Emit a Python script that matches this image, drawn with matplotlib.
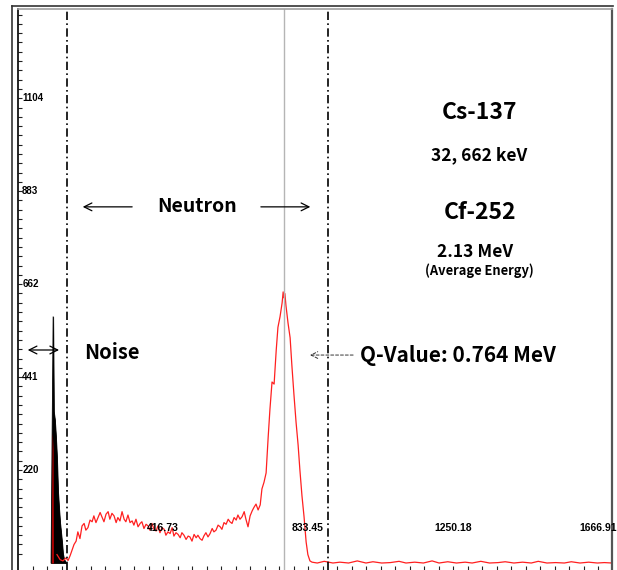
import matplotlib.pyplot as plt
from matplotlib.lines import Line2D

# energy axis in keV, counts on y
red_keV = [112, 121, 129, 138, 144, 150, 155, 161, 167, 172, 178, 184, 190, 195, 201, 207, 213, 218, 224, 230,
           236, 241, 247, 253, 259, 264, 270, 276, 282, 287, 293, 299, 305, 310, 316, 322, 328, 333, 339, 345,
           351, 356, 362, 368, 374, 379, 385, 391, 397, 402, 408, 414, 420, 425, 431, 437, 443, 448, 454, 460,
           466, 471, 477, 483, 489, 494, 500, 506, 512, 517, 523, 529, 534, 540, 546, 552, 558, 563, 569, 575,
           581, 586, 592, 598, 604, 609, 615, 621, 627, 632, 638, 644, 650, 655, 661, 667, 673, 678, 684, 690,
           696, 701, 707, 713, 719, 724, 730, 736, 742, 747, 753, 759, 762, 764, 767, 770, 776, 782, 787, 793,
           799, 805, 810, 816, 822, 828, 833, 839, 845]
red_counts = [20, 8, 5, 12, 6, 18, 30, 44, 52, 74, 58, 88, 94, 78, 84, 102, 98, 112, 96, 108,
              120, 110, 98, 116, 122, 104, 118, 112, 96, 108, 100, 122, 104, 98, 114, 96, 100, 90, 104, 86,
              94, 98, 82, 92, 88, 78, 94, 80, 76, 88, 72, 84, 80, 66, 74, 70, 84, 64, 72, 68,
              60, 72, 66, 56, 64, 62, 52, 68, 60, 66, 58, 54, 64, 72, 62, 70, 82, 74, 78, 90,
              86, 80, 96, 92, 104, 98, 94, 108, 102, 114, 104, 110, 122, 104, 86, 112, 124, 132, 140, 126,
              138, 176, 192, 214, 300, 365, 430, 425, 505, 560, 585, 618, 644, 630, 640, 612, 570, 535, 470, 400,
              335, 280, 222, 160, 110, 50, 20, 5, 2]

# flat tail after the peak
tail_keV = [860, 880, 905, 925, 950, 975, 1000, 1020, 1045, 1070, 1095, 1115, 1140, 1165, 1190, 1210,
            1235, 1260, 1285, 1305, 1330, 1355, 1380, 1400, 1425, 1450, 1475, 1495, 1520, 1545, 1570,
            1590, 1615, 1640, 1665, 1685, 1707]
tail_counts = [0, 4, 0, 2, 0, 5, 0, 3, 0, 1, 4, 0, 2, 0, 5, 0, 3, 0, 2, 0, 4, 0, 1, 3, 0, 2, 0, 4,
               0, 1, 0, 3, 0, 2, 0, 1, 0]

# low energy noise (black) and red spike
noise_keV = [95, 98, 101, 103, 106, 109, 112, 115, 118, 121, 124, 127, 129, 132, 138]
noise_counts = [0, 300, 585, 360, 340, 300, 250, 170, 130, 95, 71, 45, 24, 10, 0]
spike_keV = [96, 97, 99, 101, 102]
spike_counts = [0, 309, 300, 270, 0]

window = [141, 891]
q_value = 764

ytick_vals = [220.8, 441.6, 662.4, 883.2, 1104.0]
ytick_labels = ['220', '441', '662', '883', '1104']
xtick_vals = [416.73, 833.45, 1250.18, 1666.91]
xtick_labels = ['416.73', '833.45', '1250.18', '1666.91']

fig = plt.figure(figsize=(6.17, 5.70), dpi=100)
ax = fig.add_axes([18/617, 0, 594/617, 561/570])

ax.fill_between(noise_keV, noise_counts, color='black', lw=0.6)
ax.plot(noise_keV, noise_counts, color='black', lw=0.6)
ax.fill_between(spike_keV, spike_counts, color='#a80000', lw=0)
ax.plot(red_keV + tail_keV, red_counts + tail_counts, color='#ff2020', lw=0.9)

ax.axvline(q_value, color='#b5b5b5', lw=1)
for w in window:
    ax.axvline(w, color='black', lw=1.2, linestyle=(0, (5, 2, 1, 2)))

ax.set_xlim(0, 1707)
ax.set_ylim(-16.6, 1316)

# ticks drawn inside, labels written by hand inside the frame
ax.set_xticks([41.673 * i for i in range(1, 41)])
ax.set_yticks([22.08 * i for i in range(1, 60)])
ax.set_xticklabels([])
ax.set_yticklabels([])
ax.tick_params(direction='in', length=3, width=0.8, colors='#222222')
ax.tick_params(axis='x', top=False)
ax.tick_params(axis='y', right=False)
for v, s in zip(ytick_vals, ytick_labels):
    ax.annotate(s, xy=(0, v), xycoords=('axes fraction', 'data'), xytext=(3, 0),
                textcoords='offset points', ha='left', va='center',
                fontsize=7, fontweight='bold', family='Liberation Sans')
for v, s in zip(xtick_vals, xtick_labels):
    ax.annotate(s, xy=(v, 0), xycoords=('data', 'axes fraction'), xytext=(0, 30),
                textcoords='offset points', ha='center', va='center',
                fontsize=7.5, fontweight='bold', family='Liberation Sans')

ax.spines['bottom'].set_visible(False)
ax.spines['left'].set_linewidth(1.2)
ax.spines['top'].set_color('#a0a0a0')
ax.spines['top'].set_linewidth(1.2)
ax.spines['right'].set_color('#555555')
ax.spines['right'].set_linewidth(1.6)

# outer frame
fig.add_artist(Line2D([12/617, 12/617], [0, 564/570], color='#333333', lw=1.2))
fig.add_artist(Line2D([12/617, 613/617], [564/570, 564/570], color='#333333', lw=1.2))

font = 'Noto Sans CJK KR'
arrow = dict(arrowstyle='->', color='black', lw=0.9, mutation_scale=14)
ax.annotate('', xy=(178, 846), xytext=(336, 846), arrowprops=arrow)
ax.annotate('', xy=(848, 846), xytext=(690, 846), arrowprops=arrow)
ax.annotate('', xy=(126, 506), xytext=(20, 506),
            arrowprops=dict(arrowstyle='<->', color='black', lw=0.9, mutation_scale=14))
ax.annotate('', xy=(831, 494), xytext=(971, 494),
            arrowprops=dict(arrowstyle='->', color='#333333', lw=0.7, linestyle=(0, (3, 2)),
                            mutation_scale=12))

ax.text(514, 846, 'Neutron', ha='center', va='center', fontsize=14, family=font, fontweight='bold')
ax.text(190, 501, 'Noise', ha='left', va='center', fontsize=14.5, family=font, fontweight='bold')
ax.text(983, 494, 'Q-Value: 0.764 MeV', ha='left', va='center', fontsize=15, family=font, fontweight='bold')
ax.text(1325, 1069, 'Cs-137', ha='center', va='center', fontsize=16.5, family=font, fontweight='bold')
ax.text(1325, 969, '32, 662 keV', ha='center', va='center', fontsize=12.5, family=font, fontweight='bold')
ax.text(1328, 832, 'Cf-252', ha='center', va='center', fontsize=16.5, family=font, fontweight='bold')
ax.text(1313, 739, '2.13 MeV', ha='center', va='center', fontsize=12.5, family=font, fontweight='bold')
ax.text(1325, 694, '(Average Energy)', ha='center', va='center', fontsize=9.3, family=font, fontweight='bold')

fig.savefig('out.png', dpi=100)
